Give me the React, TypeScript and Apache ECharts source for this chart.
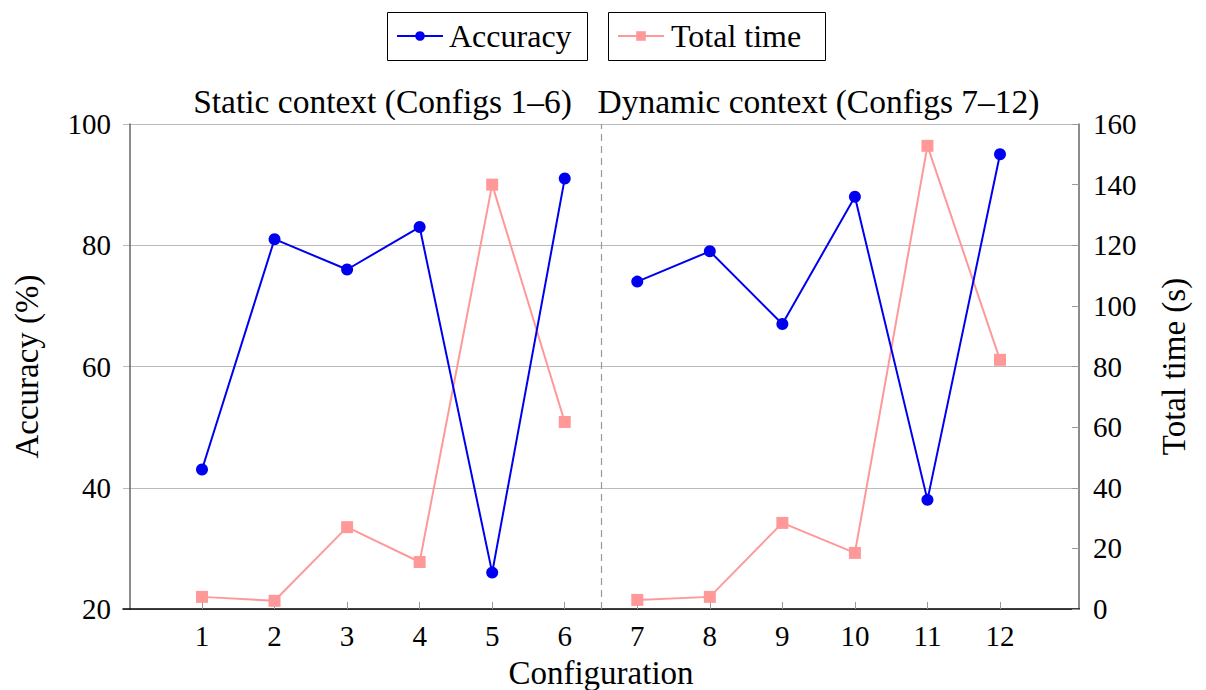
import React, { useEffect, useRef } from "react";
import * as echarts from "echarts";

const configs = [1, 2, 3, 4, 5, 6, 7, 8, 9, 10, 11, 12];
const accuracy = [43, 81, 76, 83, 26, 91, 74, 79, 67, 88, 38, 95];
const totalTime = [4, 2.7, 27, 15.5, 140, 61.7, 3, 4, 28.4, 18.5, 152.8, 82.2];
const leftTicks = [20, 40, 60, 80, 100];
const rightTicks = [0, 20, 40, 60, 80, 100, 120, 140, 160];
const groupTitles = ["Static context (Configs 1–6)", "Dynamic context (Configs 7–12)"];
const splitAt = 6.5;

const FONT = "Liberation Serif";
const LEG = 32;
const TITLE = 33.5;
const NAME = 33;
const TICK = 29;

function withBreak(values: number[]) {
  const out: any[] = [];
  configs.forEach((c, i) => {
    out.push([c, values[i]]);
    if (c === 6) out.push([splitAt, "-"]);
  });
  return out;
}

export default function App() {
  const ref = useRef<HTMLDivElement>(null);
  useEffect(() => {
    if (!ref.current) return;
    const chart = echarts.init(ref.current, null, { renderer: "svg" });
    const legText = { fontFamily: FONT, fontSize: LEG, lineHeight: 32, color: "#000" };
    const nameText = { fontFamily: FONT, fontSize: NAME, color: "#000" };
    const tickText = { fontFamily: FONT, fontSize: TICK, color: "#000" };
    chart.setOption({
      animation: false,
      grid: { left: 123, right: 127, top: 124, bottom: 81, containLabel: false, outerBoundsMode: "none" },
      legend: [
        {
          data: ["Accuracy"],
          left: 396,
          top: 20,
          padding: 0,
          borderWidth: 0,
          itemWidth: 46,
          itemHeight: 12,
          textStyle: { ...legText, padding: [0, 0, 0, 1] },
        },
        {
          data: ["Total time"],
          left: 617,
          top: 20,
          padding: 0,
          borderWidth: 0,
          itemWidth: 46,
          itemHeight: 12,
          textStyle: { ...legText, padding: [0, 0, 0, 2] },
        },
      ],
      graphic: [
        {
          type: "rect",
          shape: { x: 387.5, y: 12.5, width: 200, height: 48 },
          style: { fill: "none", stroke: "#000", lineWidth: 1 },
          z: 100,
        },
        {
          type: "rect",
          shape: { x: 608.5, y: 12.5, width: 217, height: 48 },
          style: { fill: "none", stroke: "#000", lineWidth: 1 },
          z: 100,
        },
        {
          type: "text",
          x: 382.5,
          y: 101,
          style: {
            text: groupTitles[0],
            fontFamily: FONT,
            fontSize: TITLE,
            fill: "#000",
            align: "center",
            verticalAlign: "middle",
          },
        },
        {
          type: "text",
          x: 818.5,
          y: 101,
          style: {
            text: groupTitles[1],
            fontFamily: FONT,
            fontSize: TITLE,
            fill: "#000",
            align: "center",
            verticalAlign: "middle",
          },
        },
      ],
      xAxis: {
        type: "value",
        min: -0.089,
        max: 13.089,
        name: "Configuration",
        nameLocation: "middle",
        nameGap: 47,
        nameTextStyle: { ...nameText },
        axisLine: { lineStyle: { color: "#000", width: 1.5 } },
        axisTick: {
          show: true,
          inside: true,
          length: 7,
          customValues: configs,
          lineStyle: { color: "#999", width: 1 },
        },
        axisLabel: {
          customValues: configs,
          margin: 12,
          ...tickText,
        },
        splitLine: { show: false },
      },
      yAxis: [
        {
          type: "value",
          min: 20,
          max: 100,
          interval: 20,
          position: "left",
          name: "Accuracy (%)",
          nameLocation: "middle",
          nameGap: 80,
          nameTextStyle: { ...nameText },
          axisLine: { show: true, lineStyle: { color: "#666", width: 1.5 } },
          axisTick: { show: false },
          axisLabel: { margin: 12, ...tickText, customValues: leftTicks },
          splitLine: { show: true, lineStyle: { color: "#bbb", width: 1 } },
        },
        {
          type: "value",
          min: 0,
          max: 160,
          interval: 20,
          position: "right",
          name: "Total time (s)",
          nameLocation: "middle",
          nameGap: 78,
          nameTextStyle: { ...nameText },
          axisLine: { show: true, lineStyle: { color: "#666", width: 1.5 } },
          axisTick: { show: true, inside: true, length: 7, lineStyle: { color: "#999" } },
          axisLabel: { margin: 14, ...tickText, customValues: rightTicks },
          splitLine: { show: false },
        },
      ],
      series: [
        {
          name: "Total time",
          type: "line",
          yAxisIndex: 1,
          data: withBreak(totalTime),
          connectNulls: false,
          symbol: "rect",
          symbolSize: 12,
          itemStyle: { color: "#ff9999" },
          lineStyle: { color: "#ff9999", width: 2 },
          z: 2,
        },
        {
          name: "Accuracy",
          type: "line",
          yAxisIndex: 0,
          data: withBreak(accuracy),
          connectNulls: false,
          symbol: "circle",
          symbolSize: 12,
          itemStyle: { color: "#0000f0" },
          lineStyle: { color: "#0000f0", width: 2 },
          z: 3,
          markLine: {
            silent: true,
            symbol: ["none", "none"],
            label: { show: false },
            lineStyle: { color: "#999", type: [7, 5], width: 1.2 },
            data: [{ xAxis: splitAt }],
          },
        },
      ],
    });
    return () => chart.dispose();
  }, []);
  return <div ref={ref} style={{ width: 1206, height: 690, position: "absolute", left: 0, top: 0 }} />;
}
